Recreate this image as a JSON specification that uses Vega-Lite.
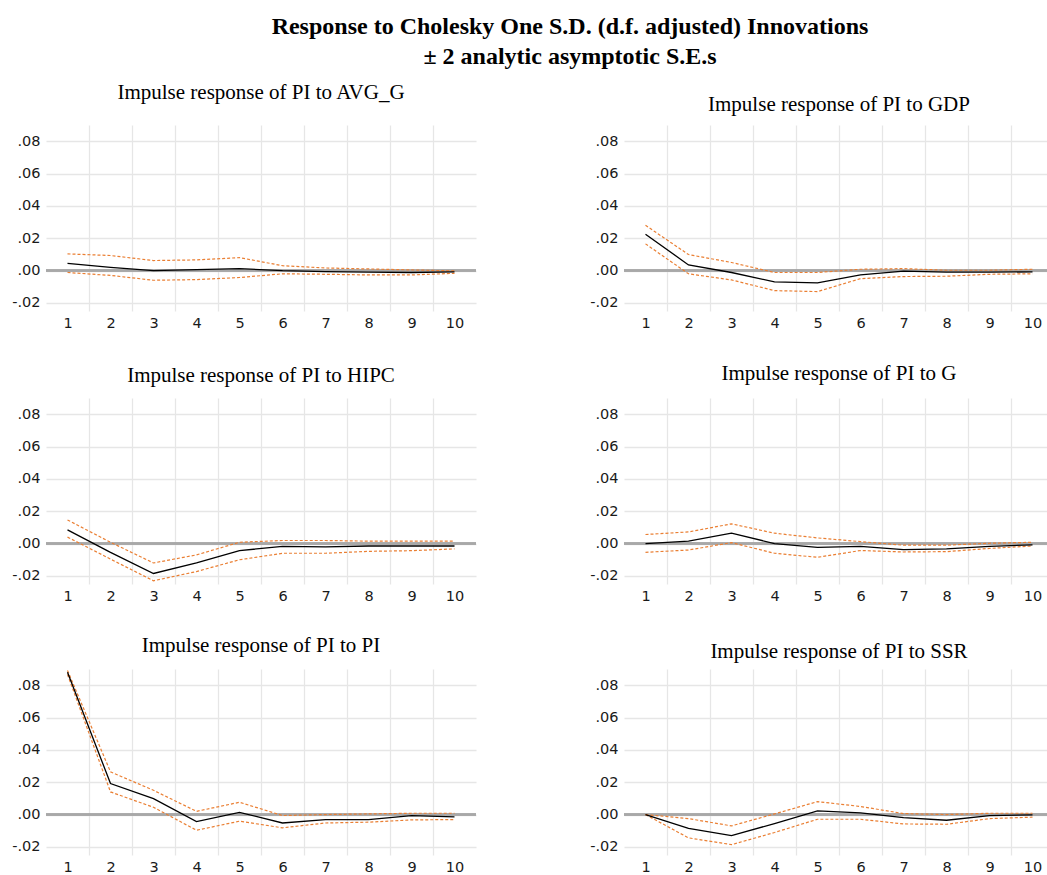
{
  "$schema": "https://vega.github.io/schema/vega-lite/v6.json",
  "autosize": {"type": "pad"},
  "padding": {"left": 11, "top": 14, "right": 0, "bottom": 0},
  "background": "white",
  "title": {
    "text": ["Response to Cholesky One S.D. (d.f. adjusted) Innovations", "± 2 analytic asymptotic S.E.s"],
    "font": "Liberation Serif", "fontSize": 24, "fontWeight": "bold", "color": "black",
    "anchor": "start", "align": "center", "frame": "group", "dx": 524, "lineHeight": 30, "offset": 13
  },
  "data": {"values": [
    {"panel": "AVG_G", "h": 1, "resp": 0.0045, "hi": 0.0103, "lo": -0.0012},
    {"panel": "AVG_G", "h": 2, "resp": 0.002, "hi": 0.0093, "lo": -0.003},
    {"panel": "AVG_G", "h": 3, "resp": 0.0, "hi": 0.0062, "lo": -0.006},
    {"panel": "AVG_G", "h": 4, "resp": 0.0006, "hi": 0.0066, "lo": -0.0056},
    {"panel": "AVG_G", "h": 5, "resp": 0.0012, "hi": 0.008, "lo": -0.0043},
    {"panel": "AVG_G", "h": 6, "resp": 0.0, "hi": 0.003, "lo": -0.002},
    {"panel": "AVG_G", "h": 7, "resp": -0.0006, "hi": 0.0016, "lo": -0.0023},
    {"panel": "AVG_G", "h": 8, "resp": -0.001, "hi": 0.001, "lo": -0.0027},
    {"panel": "AVG_G", "h": 9, "resp": -0.0012, "hi": 0.0004, "lo": -0.0027},
    {"panel": "AVG_G", "h": 10, "resp": -0.0008, "hi": -0.0002, "lo": -0.0017},
    {"panel": "GDP", "h": 1, "resp": 0.0225, "hi": 0.028, "lo": 0.0165},
    {"panel": "GDP", "h": 2, "resp": 0.0035, "hi": 0.0099, "lo": -0.002},
    {"panel": "GDP", "h": 3, "resp": -0.0012, "hi": 0.005, "lo": -0.0058},
    {"panel": "GDP", "h": 4, "resp": -0.007, "hi": -0.0012, "lo": -0.0124},
    {"panel": "GDP", "h": 5, "resp": -0.0076, "hi": -0.0012, "lo": -0.013},
    {"panel": "GDP", "h": 6, "resp": -0.0027, "hi": 0.0008, "lo": -0.005},
    {"panel": "GDP", "h": 7, "resp": -0.0004, "hi": 0.0012, "lo": -0.0037},
    {"panel": "GDP", "h": 8, "resp": -0.001, "hi": 0.0002, "lo": -0.0035},
    {"panel": "GDP", "h": 9, "resp": -0.001, "hi": 0.0002, "lo": -0.0023},
    {"panel": "GDP", "h": 10, "resp": -0.0008, "hi": 0.0008, "lo": -0.002},
    {"panel": "HIPC", "h": 1, "resp": 0.0085, "hi": 0.0146, "lo": 0.004},
    {"panel": "HIPC", "h": 2, "resp": -0.0054, "hi": 0.0008, "lo": -0.0096},
    {"panel": "HIPC", "h": 3, "resp": -0.0185, "hi": -0.012, "lo": -0.023},
    {"panel": "HIPC", "h": 4, "resp": -0.012, "hi": -0.007, "lo": -0.0173},
    {"panel": "HIPC", "h": 5, "resp": -0.0044, "hi": 0.0008, "lo": -0.01},
    {"panel": "HIPC", "h": 6, "resp": -0.0017, "hi": 0.0019, "lo": -0.006},
    {"panel": "HIPC", "h": 7, "resp": -0.002, "hi": 0.0019, "lo": -0.006},
    {"panel": "HIPC", "h": 8, "resp": -0.0015, "hi": 0.0015, "lo": -0.0048},
    {"panel": "HIPC", "h": 9, "resp": -0.0015, "hi": 0.0015, "lo": -0.0044},
    {"panel": "HIPC", "h": 10, "resp": -0.0015, "hi": 0.0015, "lo": -0.0033},
    {"panel": "G", "h": 1, "resp": 0.0, "hi": 0.0056, "lo": -0.0054},
    {"panel": "G", "h": 2, "resp": 0.0015, "hi": 0.0072, "lo": -0.004},
    {"panel": "G", "h": 3, "resp": 0.0064, "hi": 0.0122, "lo": 0.0006},
    {"panel": "G", "h": 4, "resp": 0.0, "hi": 0.0064, "lo": -0.006},
    {"panel": "G", "h": 5, "resp": -0.0023, "hi": 0.0035, "lo": -0.0085},
    {"panel": "G", "h": 6, "resp": -0.0017, "hi": 0.0012, "lo": -0.0043},
    {"panel": "G", "h": 7, "resp": -0.0037, "hi": -0.001, "lo": -0.0052},
    {"panel": "G", "h": 8, "resp": -0.0033, "hi": -0.001, "lo": -0.005},
    {"panel": "G", "h": 9, "resp": -0.0017, "hi": 0.0002, "lo": -0.003},
    {"panel": "G", "h": 10, "resp": -0.0008, "hi": 0.0008, "lo": -0.0015},
    {"panel": "PI", "h": 1, "resp": 0.088, "hi": 0.0891, "lo": 0.0866},
    {"panel": "PI", "h": 2, "resp": 0.0192, "hi": 0.0264, "lo": 0.014},
    {"panel": "PI", "h": 3, "resp": 0.0099, "hi": 0.015, "lo": 0.0045},
    {"panel": "PI", "h": 4, "resp": -0.0043, "hi": 0.002, "lo": -0.0097},
    {"panel": "PI", "h": 5, "resp": 0.0014, "hi": 0.0076, "lo": -0.0041},
    {"panel": "PI", "h": 6, "resp": -0.0052, "hi": -0.0006, "lo": -0.0082},
    {"panel": "PI", "h": 7, "resp": -0.0031, "hi": 0.0, "lo": -0.0052},
    {"panel": "PI", "h": 8, "resp": -0.0031, "hi": 0.0004, "lo": -0.0047},
    {"panel": "PI", "h": 9, "resp": -0.0006, "hi": 0.0008, "lo": -0.0033},
    {"panel": "PI", "h": 10, "resp": -0.0014, "hi": 0.0008, "lo": -0.0031},
    {"panel": "SSR", "h": 1, "resp": 0.0, "hi": 0.0, "lo": 0.0},
    {"panel": "SSR", "h": 2, "resp": -0.0085, "hi": -0.0025, "lo": -0.0144},
    {"panel": "SSR", "h": 3, "resp": -0.013, "hi": -0.007, "lo": -0.0186},
    {"panel": "SSR", "h": 4, "resp": -0.0056, "hi": 0.0004, "lo": -0.0111},
    {"panel": "SSR", "h": 5, "resp": 0.0023, "hi": 0.008, "lo": -0.0029},
    {"panel": "SSR", "h": 6, "resp": 0.001, "hi": 0.005, "lo": -0.0029},
    {"panel": "SSR", "h": 7, "resp": -0.0019, "hi": 0.0006, "lo": -0.0058},
    {"panel": "SSR", "h": 8, "resp": -0.0035, "hi": 0.0, "lo": -0.006},
    {"panel": "SSR", "h": 9, "resp": -0.0006, "hi": 0.0008, "lo": -0.0025},
    {"panel": "SSR", "h": 10, "resp": -0.0002, "hi": 0.0008, "lo": -0.0016}
  ]},
  "config": {
    "view": {"stroke": null},
    "title": {"font": "Liberation Serif", "fontSize": 21, "fontWeight": "normal", "color": "black", "anchor": "middle"},
    "axis": {"labelFont": "DejaVu Sans", "labelFontSize": 14.5, "labelColor": "#1a1a1a", "domain": false, "ticks": false, "title": null, "gridColor": "#e6e6e6", "gridWidth": 1.3, "labelOverlap": false},
    "axisY": {"labelPadding": 6, "grid": true, "tickCount": 12}
  },
  "spacing": 32,
  "vconcat": [
    {"hconcat": [
      {"title": {"text": "Impulse response of PI to AVG_G", "offset": 22.5}, "width": 430, "height": 186,
       "transform": [{"filter": "datum.panel === 'AVG_G'"}],
       "layer": [
        {"mark": {"type": "rule", "color": "#a8a8a8", "strokeWidth": 1.5}, "encoding": {"y": {"datum": 0, "type": "quantitative", "scale": {"domain": [-0.025, 0.09], "nice": false, "zero": false}, "axis": {"values": [-0.02, 0, 0.02, 0.04, 0.06, 0.08], "labelExpr": "replace(replace(format(datum.value, '.2f'), '0.', '.'), '\u2212', '-')"}}}},
        {"mark": {"type": "line", "color": "#ea7f33", "strokeDash": [3, 2], "strokeWidth": 1.2},
         "encoding": {"x": {"field": "h", "type": "quantitative", "scale": {"domain": [0.5, 10.5], "nice": false, "zero": false}, "axis": {"orient": "bottom", "values": [1.5, 2.5, 3.5, 4.5, 5.5, 6.5, 7.5, 8.5, 9.5], "tickCount": 12, "grid": true, "labels": false}},
                      "y": {"field": "hi", "type": "quantitative"}}},
        {"mark": {"type": "line", "color": "#ea7f33", "strokeDash": [3, 2], "strokeWidth": 1.2},
         "encoding": {"x": {"field": "h", "type": "quantitative", "axis": {"orient": "bottom", "values": [1, 2, 3, 4, 5, 6, 7, 8, 9, 10], "tickCount": 12, "grid": false, "labelPadding": 5, "format": "d"}},
                      "y": {"field": "lo", "type": "quantitative"}}},
        {"mark": {"type": "line", "stroke": "black", "strokeWidth": 1.3},
         "encoding": {"x": {"field": "h", "type": "quantitative", "axis": null}, "y": {"field": "resp", "type": "quantitative"}}}
       ],
       "resolve": {"axis": {"x": "independent"}}},
      {"title": {"text": "Impulse response of PI to GDP", "offset": 10.5}, "width": 430, "height": 186,
       "transform": [{"filter": "datum.panel === 'GDP'"}],
       "layer": [
        {"mark": {"type": "rule", "color": "#a8a8a8", "strokeWidth": 1.5}, "encoding": {"y": {"datum": 0, "type": "quantitative", "scale": {"domain": [-0.025, 0.09], "nice": false, "zero": false}, "axis": {"values": [-0.02, 0, 0.02, 0.04, 0.06, 0.08], "labelExpr": "replace(replace(format(datum.value, '.2f'), '0.', '.'), '\u2212', '-')"}}}},
        {"mark": {"type": "line", "color": "#ea7f33", "strokeDash": [3, 2], "strokeWidth": 1.2},
         "encoding": {"x": {"field": "h", "type": "quantitative", "scale": {"domain": [0.5, 10.5], "nice": false, "zero": false}, "axis": {"orient": "bottom", "values": [1.5, 2.5, 3.5, 4.5, 5.5, 6.5, 7.5, 8.5, 9.5], "tickCount": 12, "grid": true, "labels": false}},
                      "y": {"field": "hi", "type": "quantitative"}}},
        {"mark": {"type": "line", "color": "#ea7f33", "strokeDash": [3, 2], "strokeWidth": 1.2},
         "encoding": {"x": {"field": "h", "type": "quantitative", "axis": {"orient": "bottom", "values": [1, 2, 3, 4, 5, 6, 7, 8, 9, 10], "tickCount": 12, "grid": false, "labelPadding": 5, "format": "d"}},
                      "y": {"field": "lo", "type": "quantitative"}}},
        {"mark": {"type": "line", "stroke": "black", "strokeWidth": 1.3},
         "encoding": {"x": {"field": "h", "type": "quantitative", "axis": null}, "y": {"field": "resp", "type": "quantitative"}}}
       ],
       "resolve": {"axis": {"x": "independent"}}}
    ], "spacing": 112},
    {"hconcat": [
      {"title": {"text": "Impulse response of PI to HIPC", "offset": 12.5}, "width": 430, "height": 186,
       "transform": [{"filter": "datum.panel === 'HIPC'"}],
       "layer": [
        {"mark": {"type": "rule", "color": "#a8a8a8", "strokeWidth": 1.5}, "encoding": {"y": {"datum": 0, "type": "quantitative", "scale": {"domain": [-0.025, 0.09], "nice": false, "zero": false}, "axis": {"values": [-0.02, 0, 0.02, 0.04, 0.06, 0.08], "labelExpr": "replace(replace(format(datum.value, '.2f'), '0.', '.'), '\u2212', '-')"}}}},
        {"mark": {"type": "line", "color": "#ea7f33", "strokeDash": [3, 2], "strokeWidth": 1.2},
         "encoding": {"x": {"field": "h", "type": "quantitative", "scale": {"domain": [0.5, 10.5], "nice": false, "zero": false}, "axis": {"orient": "bottom", "values": [1.5, 2.5, 3.5, 4.5, 5.5, 6.5, 7.5, 8.5, 9.5], "tickCount": 12, "grid": true, "labels": false}},
                      "y": {"field": "hi", "type": "quantitative"}}},
        {"mark": {"type": "line", "color": "#ea7f33", "strokeDash": [3, 2], "strokeWidth": 1.2},
         "encoding": {"x": {"field": "h", "type": "quantitative", "axis": {"orient": "bottom", "values": [1, 2, 3, 4, 5, 6, 7, 8, 9, 10], "tickCount": 12, "grid": false, "labelPadding": 5, "format": "d"}},
                      "y": {"field": "lo", "type": "quantitative"}}},
        {"mark": {"type": "line", "stroke": "black", "strokeWidth": 1.3},
         "encoding": {"x": {"field": "h", "type": "quantitative", "axis": null}, "y": {"field": "resp", "type": "quantitative"}}}
       ],
       "resolve": {"axis": {"x": "independent"}}},
      {"title": {"text": "Impulse response of PI to G", "offset": 14.5}, "width": 430, "height": 186,
       "transform": [{"filter": "datum.panel === 'G'"}],
       "layer": [
        {"mark": {"type": "rule", "color": "#a8a8a8", "strokeWidth": 1.5}, "encoding": {"y": {"datum": 0, "type": "quantitative", "scale": {"domain": [-0.025, 0.09], "nice": false, "zero": false}, "axis": {"values": [-0.02, 0, 0.02, 0.04, 0.06, 0.08], "labelExpr": "replace(replace(format(datum.value, '.2f'), '0.', '.'), '\u2212', '-')"}}}},
        {"mark": {"type": "line", "color": "#ea7f33", "strokeDash": [3, 2], "strokeWidth": 1.2},
         "encoding": {"x": {"field": "h", "type": "quantitative", "scale": {"domain": [0.5, 10.5], "nice": false, "zero": false}, "axis": {"orient": "bottom", "values": [1.5, 2.5, 3.5, 4.5, 5.5, 6.5, 7.5, 8.5, 9.5], "tickCount": 12, "grid": true, "labels": false}},
                      "y": {"field": "hi", "type": "quantitative"}}},
        {"mark": {"type": "line", "color": "#ea7f33", "strokeDash": [3, 2], "strokeWidth": 1.2},
         "encoding": {"x": {"field": "h", "type": "quantitative", "axis": {"orient": "bottom", "values": [1, 2, 3, 4, 5, 6, 7, 8, 9, 10], "tickCount": 12, "grid": false, "labelPadding": 5, "format": "d"}},
                      "y": {"field": "lo", "type": "quantitative"}}},
        {"mark": {"type": "line", "stroke": "black", "strokeWidth": 1.3},
         "encoding": {"x": {"field": "h", "type": "quantitative", "axis": null}, "y": {"field": "resp", "type": "quantitative"}}}
       ],
       "resolve": {"axis": {"x": "independent"}}}
    ], "spacing": 112},
    {"hconcat": [
      {"title": {"text": "Impulse response of PI to PI", "offset": 12}, "width": 430, "height": 186,
       "transform": [{"filter": "datum.panel === 'PI'"}],
       "layer": [
        {"mark": {"type": "rule", "color": "#a8a8a8", "strokeWidth": 1.5}, "encoding": {"y": {"datum": 0, "type": "quantitative", "scale": {"domain": [-0.025, 0.09], "nice": false, "zero": false}, "axis": {"values": [-0.02, 0, 0.02, 0.04, 0.06, 0.08], "labelExpr": "replace(replace(format(datum.value, '.2f'), '0.', '.'), '\u2212', '-')"}}}},
        {"mark": {"type": "line", "color": "#ea7f33", "strokeDash": [3, 2], "strokeWidth": 1.2},
         "encoding": {"x": {"field": "h", "type": "quantitative", "scale": {"domain": [0.5, 10.5], "nice": false, "zero": false}, "axis": {"orient": "bottom", "values": [1.5, 2.5, 3.5, 4.5, 5.5, 6.5, 7.5, 8.5, 9.5], "tickCount": 12, "grid": true, "labels": false}},
                      "y": {"field": "hi", "type": "quantitative"}}},
        {"mark": {"type": "line", "color": "#ea7f33", "strokeDash": [3, 2], "strokeWidth": 1.2},
         "encoding": {"x": {"field": "h", "type": "quantitative", "axis": {"orient": "bottom", "values": [1, 2, 3, 4, 5, 6, 7, 8, 9, 10], "tickCount": 12, "grid": false, "labelPadding": 5, "format": "d"}},
                      "y": {"field": "lo", "type": "quantitative"}}},
        {"mark": {"type": "line", "stroke": "black", "strokeWidth": 1.3},
         "encoding": {"x": {"field": "h", "type": "quantitative", "axis": null}, "y": {"field": "resp", "type": "quantitative"}}}
       ],
       "resolve": {"axis": {"x": "independent"}}},
      {"title": {"text": "Impulse response of PI to SSR", "offset": 7}, "width": 430, "height": 186,
       "transform": [{"filter": "datum.panel === 'SSR'"}],
       "layer": [
        {"mark": {"type": "rule", "color": "#a8a8a8", "strokeWidth": 1.5}, "encoding": {"y": {"datum": 0, "type": "quantitative", "scale": {"domain": [-0.025, 0.09], "nice": false, "zero": false}, "axis": {"values": [-0.02, 0, 0.02, 0.04, 0.06, 0.08], "labelExpr": "replace(replace(format(datum.value, '.2f'), '0.', '.'), '\u2212', '-')"}}}},
        {"mark": {"type": "line", "color": "#ea7f33", "strokeDash": [3, 2], "strokeWidth": 1.2},
         "encoding": {"x": {"field": "h", "type": "quantitative", "scale": {"domain": [0.5, 10.5], "nice": false, "zero": false}, "axis": {"orient": "bottom", "values": [1.5, 2.5, 3.5, 4.5, 5.5, 6.5, 7.5, 8.5, 9.5], "tickCount": 12, "grid": true, "labels": false}},
                      "y": {"field": "hi", "type": "quantitative"}}},
        {"mark": {"type": "line", "color": "#ea7f33", "strokeDash": [3, 2], "strokeWidth": 1.2},
         "encoding": {"x": {"field": "h", "type": "quantitative", "axis": {"orient": "bottom", "values": [1, 2, 3, 4, 5, 6, 7, 8, 9, 10], "tickCount": 12, "grid": false, "labelPadding": 5, "format": "d"}},
                      "y": {"field": "lo", "type": "quantitative"}}},
        {"mark": {"type": "line", "stroke": "black", "strokeWidth": 1.3},
         "encoding": {"x": {"field": "h", "type": "quantitative", "axis": null}, "y": {"field": "resp", "type": "quantitative"}}}
       ],
       "resolve": {"axis": {"x": "independent"}}}
    ], "spacing": 112}
  ]
}
